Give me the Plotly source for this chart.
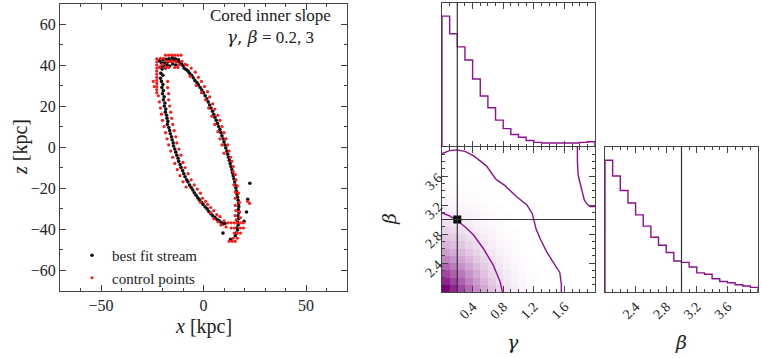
import plotly.graph_objects as go

W, H = 762, 358
FONT = "Liberation Serif"
GREEK = "DejaVu Serif"
PURPLE = "#8e108e"

# ---- stream (x, z) in kpc ----
best_fit = [
    (-21.5, 42), (-20.5, 41), (-19.8, 42.5), (-19, 41), (-18.2, 42.8), (-17.5, 41.5), (-16.8, 43),
    (-16, 42), (-15.2, 43.5), (-14.5, 42.2), (-13.7, 43), (-13, 41.8), (-12.2, 42.5), (-11.5, 41.2),
    (-10.8, 40.5), (-10, 39.8), (-21, 39), (-20.2, 38), (-19.5, 39.5), (-18.5, 38.5), (-17.8, 40),
    (-16.5, 39.5), (-15, 40.5), (-13.5, 40), (-20.8, 36), (-19.8, 35), (-21, 33.5),
    (-20.5, 32), (-19.8, 30.5), (-20.3, 29), (-19.6, 27.5), (-20, 26), (-19.2, 24.5), (-19.6, 23),
    (-18.8, 21.5), (-19.1, 20), (-18.4, 18.5), (-18.6, 17), (-18, 15.5), (-17.8, 14), (-17.4, 12.5),
    (-17.6, 11), (-16.9, 9.5), (-16.5, 8), (-16.2, 6.5), (-15.6, 5), (-15.3, 3.5), (-14.8, 2),
    (-14.6, 0.5), (-14, -1), (-13.5, -2.5), (-13, -4), (-12.4, -5.5), (-12.1, -7), (-11.4, -8.5),
    (-11, -10), (-10.2, -11.5), (-9.6, -13), (-9, -14.5), (-8.2, -16), (-7.6, -17), (-6.8, -18.5),
    (-6, -19.8), (-5.2, -21), (-4.5, -22.3), (-3.6, -23.5), (-2.8, -24.8), (-2, -25.8), (-1, -27),
    (-0.2, -28), (0.8, -29.3), (1.8, -30.2), (2.6, -31.5), (3.6, -32.5), (4.5, -33.5), (5.6, -34.4),
    (6.6, -35.4), (7.6, -36), (8.6, -36.8), (9.6, -37.5), (10.5, -37.2),
    (-9.5, 38.5), (-8.5, 37.8), (-7.5, 37), (-6.8, 36), (-5.8, 35), (-5, 33.8), (-4.2, 32.5),
    (-3.2, 31.5), (-2.5, 30.3), (-1.6, 29), (-0.8, 27.8), (0, 26.5), (0.8, 25), (1.6, 23.5),
    (2.3, 22), (3, 20.5), (3.6, 19), (4.4, 17.5), (5, 16), (5.6, 14.5), (6.2, 13), (6.8, 11.5),
    (7.4, 10), (8, 8.5), (8.5, 7), (9, 5.5), (9.6, 4), (10, 2.5), (10.5, 1), (10.9, -0.5),
    (11.4, -2), (11.8, -3.5), (12.2, -5), (12.6, -6.5), (13, -8), (13.4, -9.5), (13.8, -11),
    (14.1, -12.5), (14.5, -14), (14.8, -15.5), (15.2, -17), (15.4, -18.5), (15.8, -20), (16, -21.5),
    (16.4, -23), (16.6, -24.5), (16.9, -26), (17.1, -27.5), (17.2, -29), (17, -30.5), (17.3, -32),
    (16.8, -33.5), (17.1, -35), (16.6, -36.5), (16.9, -38), (16.3, -39.5), (16.6, -40.5), (16, -42),
    (15.5, -43.3),
    (22.6, -17.7), (21.6, -25.5), (21, -31.7), (19.8, -36.2), (9.5, -42), (13.2, -45),
]

control = [
    (-18.5, 44.8), (-17, 44.8), (-15.5, 44.8), (-14, 44.8), (-12.5, 44.8), (-11, 44.8),
    (-22.8, 43), (-22.8, 41.5), (-22.8, 40), (-22.8, 38.5), (-22.8, 37), (-22.8, 35.5), (-22.8, 34),
    (-22.8, 32.5), (-22.8, 31), (-22.8, 29.5), (-22.8, 28), (-22.8, 26.5), (-24.5, 32), (-24, 29.5),
    (-21, 43.3), (-19.5, 43.3), (-18, 41.8), (-16.5, 41.8), (-15, 41.8), (-13.5, 41.8), (-12, 40.3),
    (-10.5, 41.8), (-9, 40.3), (-20, 40.3), (-18.5, 38.8), (-17, 38.8), (-14, 38.8), (-12.5, 38.8),
    (-21.5, 38.8),
    (-22, 25), (-21.5, 22), (-21, 19), (-20.5, 16), (-20, 13), (-19.2, 10), (-18.5, 7), (-17.8, 4),
    (-17, 1), (-16, -2), (-15, -5), (-14, -8), (-12.8, -11), (-11.5, -14), (-10, -17), (-8.5, -19.5),
    (-17.5, 32), (-17.5, 29), (-17, 26), (-17, 23), (-16.5, 20), (-16, 17), (-15.5, 14), (-15, 11),
    (-14.3, 8), (-13.5, 5), (-13, 2), (-12, -1), (-11, -4), (-10, -7.5), (-9, -10), (-7.5, -13),
    (-6, -16), (-4.5, -18.5), (-3, -20.5), (-1.5, -22.5),
    (-1.5, -27), (-0.5, -25), (1, -26.5), (2, -28), (3.5, -29.5), (3.5, -32), (5, -31), (6.5, -33),
    (8, -34), (5, -35), (7, -36.5), (8.5, -38), (10, -36), (11, -39),
    (-8, 40), (-6, 38.5), (-4, 36.5), (-2.5, 34), (-1, 32), (0.5, 29.5), (2, 27), (3, 24.5),
    (4.5, 21), (5.5, 18.5), (7, 15.5), (8, 13), (9, 10), (10, 7), (11, 4), (11.8, 1), (12.5, -2),
    (13.2, -5),
    (-6.5, 34.5), (-3.5, 30), (-1, 26.5), (1, 23), (2.5, 19), (4, 15), (5.5, 11), (7, 7.5), (8, 4),
    (9, 1), (10, -3),
    (13.8, -7), (14.5, -9.5), (14.5, -12), (15.5, -13.5), (15.8, -16), (14.8, -18.5), (16.5, -19),
    (15.5, -22), (17, -22.5), (15.5, -25), (17.5, -27), (15.5, -28.5), (15.8, -31), (17.5, -31.5),
    (15.5, -33.5), (18, -34.5), (16, -35.5),
    (12, -37), (13.5, -37), (15, -37), (16.5, -37), (18, -37), (19.5, -37),
    (13.5, -39.5), (15, -39.5), (18, -39.5), (19.5, -39.5),
    (15, -42), (16.5, -42), (18, -42), (14.5, -44.5), (16.5, -44.5),
    (12.5, -46), (14, -46), (15.5, -46), (21.5, -26.5), (22.5, -27.5),
]

# ---- posterior ----
bin_edges = [0.1 * i for i in range(21)]
gamma_hist = [2.00, 1.73, 1.53, 1.33, 1.04, 0.78, 0.60, 0.41, 0.28, 0.19,
              0.15, 0.10, 0.07, 0.06, 0.06, 0.06, 0.06, 0.06, 0.07, 0.08]
beta_hist = [2.00, 1.76, 1.54, 1.35, 1.17, 1.00, 0.83, 0.71, 0.60, 0.47,
             0.45, 0.38, 0.29, 0.27, 0.20, 0.16, 0.14, 0.11, 0.09, 0.07]
beta_edges = [2 + e for e in bin_edges]

# 2D density rows (beta bins from 2.0 upward), columns gamma bins from 0.0
density_rows = [
    [1.00, .86, .72, .58, .45, .34, .25, .17, .11, .07, .04, .02, .01],
    [.86, .75, .63, .50, .39, .29, .21, .14, .09, .06, .03, .02, .01],
    [.72, .63, .53, .42, .33, .24, .17, .12, .08, .05, .03, .01, .01],
    [.60, .52, .44, .35, .27, .20, .14, .10, .06, .04, .02, .01, 0],
    [.48, .42, .35, .28, .22, .16, .11, .08, .05, .03, .02, .01, 0],
    [.38, .33, .28, .22, .17, .12, .09, .06, .04, .02, .01, 0, 0],
    [.30, .26, .22, .17, .13, .10, .07, .04, .03, .02, .01, 0, 0],
    [.23, .20, .17, .13, .10, .07, .05, .03, .02, .01, 0, 0, 0],
    [.17, .15, .12, .10, .07, .05, .04, .02, .01, .01, 0, 0, 0],
    [.13, .11, .09, .07, .05, .04, .03, .02, .01, 0, 0, 0, 0],
    [.09, .08, .06, .05, .04, .03, .02, .01, .01, 0, 0, 0, 0],
    [.06, .05, .04, .03, .03, .02, .01, .01, 0, 0, 0, 0, 0],
    [.04, .03, .03, .02, .02, .01, .01, 0, 0, 0, 0, 0, 0],
    [.02, .02, .02, .01, .01, .01, 0, 0, 0, 0, 0, 0, 0],
    [.01, .01, .01, .01, 0, 0, 0, 0, 0, 0, 0, 0, 0],
]

contour_inner_g = [0.0, 0.1, 0.19, 0.3, 0.41, 0.54, 0.67, 0.76, 0.79]
contour_inner_b = [3.09, 3.05, 2.99, 2.9, 2.79, 2.60, 2.37, 2.14, 2.0]
contour_mid_g = [0.0, 0.1, 0.19, 0.3, 0.41, 0.5, 0.58, 0.71, 0.82, 0.98, 1.11, 1.18,
                 1.20, 1.23, 1.29, 1.37, 1.49, 1.54, 1.56, 1.56]
contour_mid_b = [3.91, 3.95, 3.96, 3.94, 3.88, 3.80, 3.74, 3.55, 3.47, 3.31, 3.20, 3.08,
                 3.00, 2.87, 2.72, 2.55, 2.35, 2.27, 2.10, 2.0]
contour_out_g = [1.77, 1.77, 1.78, 1.80, 1.83, 1.86, 1.90, 1.94, 2.0]
contour_out_b = [4.0, 3.8, 3.61, 3.52, 3.40, 3.27, 3.21, 3.18, 3.18]

true_gamma, true_beta = 0.2, 3.0


def dom_x(a, b):
    return [a / W, b / W]


def dom_y(top, bottom):
    return [1 - bottom / H, 1 - top / H]


def step(edges, vals):
    xs = [edges[0]] + list(edges) + [edges[-1]]
    ys = [0] + list(vals) + [vals[-1], 0]
    return xs, ys


fig = go.Figure()

# left panel: stream
fig.add_trace(go.Scatter(
    x=[p[0] for p in best_fit], y=[p[1] for p in best_fit], mode="markers",
    marker=dict(color="#111111", size=3.6), name="best fit stream", xaxis="x", yaxis="y"))
fig.add_trace(go.Scatter(
    x=[p[0] for p in control], y=[p[1] for p in control], mode="markers",
    marker=dict(color="#ff1a1a", size=3.2), name="control points", xaxis="x", yaxis="y"))

# top histogram (gamma)
gx, gy = step(bin_edges, gamma_hist)
fig.add_trace(go.Scatter(x=gx, y=gy, mode="lines", line=dict(color=PURPLE, width=1.4, shape="hv"),
                         showlegend=False, xaxis="x2", yaxis="y2"))

# 2D density
z = [row + [0] * (20 - len(row)) for row in density_rows]
z += [[0] * 20 for _ in range(20 - len(z))]
centres = [e + 0.05 for e in bin_edges[:-1]]
fig.add_trace(go.Heatmap(
    x=centres, y=[2 + c for c in centres], z=z, zmin=0, zmax=1,
    colorscale=[[0, "#ffffff"], [1, "#7d007d"]], showscale=False, hoverinfo="skip",
    xaxis="x3", yaxis="y3"))
for cg, cb in [(contour_inner_g, contour_inner_b), (contour_mid_g, contour_mid_b),
               (contour_out_g, contour_out_b)]:
    fig.add_trace(go.Scatter(x=cg, y=cb, mode="lines", line=dict(color=PURPLE, width=1.4),
                             showlegend=False, xaxis="x3", yaxis="y3"))
fig.add_trace(go.Scatter(x=[true_gamma], y=[true_beta], mode="markers",
                         marker=dict(color="black", size=8, symbol="square"),
                         showlegend=False, xaxis="x3", yaxis="y3"))

# right histogram (beta)
bx, by = step(beta_edges, beta_hist)
fig.add_trace(go.Scatter(x=bx, y=by, mode="lines", line=dict(color=PURPLE, width=1.4, shape="hv"),
                         showlegend=False, xaxis="x4", yaxis="y4"))

line_col = "#333333"
fig.add_shape(type="line", xref="x2", yref="y2 domain", x0=true_gamma, x1=true_gamma, y0=0, y1=1,
              line=dict(color=line_col, width=1.2))
fig.add_shape(type="line", xref="x3", yref="y3 domain", x0=true_gamma, x1=true_gamma, y0=0, y1=1,
              line=dict(color=line_col, width=1.2))
fig.add_shape(type="line", xref="x3 domain", yref="y3", x0=0, x1=1, y0=true_beta, y1=true_beta,
              line=dict(color=line_col, width=1.2))
fig.add_shape(type="line", xref="x4", yref="y4 domain", x0=true_beta, x1=true_beta, y0=0, y1=1,
              line=dict(color=line_col, width=1.2))

frame = dict(showline=True, linecolor="#444444", linewidth=1, mirror="ticks", ticks="inside",
             ticklen=6, tickcolor="#444444", showgrid=False, zeroline=False,
             tickfont=dict(family=FONT, size=16, color="#222222"))
minor_tk = dict(ticks="inside", ticklen=3, tickcolor="#444444")

fig.update_layout(
    width=W, height=H, margin=dict(l=0, r=0, t=0, b=0),
    paper_bgcolor="white", plot_bgcolor="white",
    font=dict(family=FONT, color="#222222"),
    xaxis=dict(frame, domain=dom_x(60, 347), range=[-70, 70], tickvals=[-50, 0, 50],
               ticktext=["\u221250", "0", "50"], minor=dict(minor_tk, dtick=10)),
    yaxis=dict(frame, domain=dom_y(3.5, 290.5), range=[-70, 70],
               tickvals=[-60, -40, -20, 0, 20, 40, 60],
               ticktext=["\u221260", "\u221240", "\u221220", "0", "20", "40", "60"],
               minor=dict(minor_tk, dtick=10)),
    xaxis2=dict(frame, domain=dom_x(442, 595), range=[0, 2], tickvals=[0.4, 0.8, 1.2, 1.6],
                showticklabels=False, anchor="y2", minor=dict(minor_tk, dtick=0.1)),
    yaxis2=dict(showline=True, linecolor="#444444", mirror=True, ticks="", showticklabels=False,
                showgrid=False, zeroline=False, domain=dom_y(3, 147), range=[0, 2.2], anchor="x2"),
    xaxis3=dict(frame, domain=dom_x(442, 595), range=[0, 2], tickvals=[0.4, 0.8, 1.2, 1.6],
                tickangle=-45, tickfont=dict(family=FONT, size=14), anchor="y3",
                minor=dict(minor_tk, dtick=0.1)),
    yaxis3=dict(frame, domain=dom_y(147, 292), range=[2, 4], tickvals=[2.4, 2.8, 3.2, 3.6],
                tickangle=-45, tickfont=dict(family=FONT, size=14), anchor="x3",
                minor=dict(minor_tk, dtick=0.1)),
    xaxis4=dict(frame, domain=dom_x(605, 758), range=[2, 4], tickvals=[2.4, 2.8, 3.2, 3.6],
                tickangle=-45, tickfont=dict(family=FONT, size=14), anchor="y4",
                minor=dict(minor_tk, dtick=0.1)),
    yaxis4=dict(showline=True, linecolor="#444444", mirror=True, ticks="", showticklabels=False,
                showgrid=False, zeroline=False, domain=dom_y(147, 292), range=[0, 2.2], anchor="x4"),
    legend=dict(x=72 / W, y=1 - 239 / H, xanchor="left", yanchor="top", bgcolor="rgba(0,0,0,0)",
                font=dict(family=FONT, size=15, color="#222222"), itemsizing="trace",
                tracegroupgap=0),
    showlegend=True,
)

annotations = [
    dict(x=270 / W, y=1 - 4 / H,
         text="Cored inner slope<br><span style='font-family:DejaVu Serif'><i>\u03b3</i>, <i>\u03b2</i></span> = 0.2, 3",
         align="center", yanchor="top", font=dict(family=FONT, size=17)),
    dict(x=203 / W, y=1 - 326 / H, text="<i>x</i> [kpc]", font=dict(family=FONT, size=20)),
    dict(x=20 / W, y=1 - 147 / H, text="<i>z</i> [kpc]", textangle=-90, font=dict(family=FONT, size=20)),
    dict(x=513 / W, y=1 - 342 / H, text="<i>\u03b3</i>", font=dict(family=GREEK, size=19)),
    dict(x=389 / W, y=1 - 219 / H, text="<i>\u03b2</i>", textangle=-90, font=dict(family=GREEK, size=19)),
    dict(x=681 / W, y=1 - 342 / H, text="<i>\u03b2</i>", font=dict(family=GREEK, size=19)),
]
for a in annotations:
    a.update(xref="paper", yref="paper", showarrow=False)
    a.setdefault("xanchor", "center")
    a.setdefault("yanchor", "middle")
    a["font"] = dict(color="#222222", **a["font"])
fig.update_layout(annotations=annotations)

fig.write_html("out.html", config={"displayModeBar": False},
               post_script="document.body.style.margin='0';")
